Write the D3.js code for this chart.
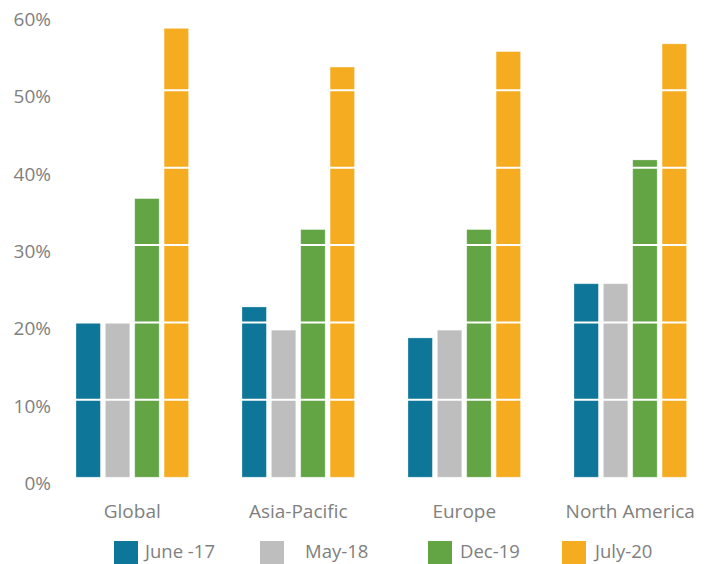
<!DOCTYPE html>
<html>
<head>
<meta charset="utf-8">
<script src="https://cdn.jsdelivr.net/npm/d3@7"></script>
<style>
  html, body { margin: 0; padding: 0; background: #ffffff; }
  svg { display: block; }
  text { font-family: "Open Sans", "Noto Sans", sans-serif; fill: #808080; }
</style>
</head>
<body>
<svg id="chart" width="705" height="564"></svg>
<script>
// ---- data ----
const categories = ["Global", "Asia-Pacific", "Europe", "North America"];
const seriesNames = ["June -17", "May-18", "Dec-19", "July-20"];
const june17 = [20, 22, 18, 25];
const may18  = [20, 19, 19, 25];
const dec19  = [36, 32, 32, 41];
const july20 = [58, 53, 55, 56];
const yTicks = [0, 10, 20, 30, 40, 50, 60];
const colors = ["#0e7799", "#bdbebd", "#63a445", "#f5ac21"];

const seriesValues = [june17, may18, dec19, july20];

// ---- layout ----
const svg = d3.select("#chart");
const y = d3.scaleLinear().domain([0, 60]).range([477.2, 12.9]);
const x0 = d3.scaleBand().domain(categories)
  .range([76, 76 + 166 * 3 + 112.5])
  .paddingInner((166 - 112.5) / 166)
  .paddingOuter(0);
const x1 = d3.scaleBand().domain(seriesNames).range([0, x0.bandwidth()]).paddingInner(0.17);

// bars
const g = svg.append("g");
categories.forEach((cat, ci) => {
  seriesNames.forEach((s, si) => {
    const v = seriesValues[si][ci];
    g.append("rect")
      .attr("x", x0(cat) + x1(s))
      .attr("y", y(v))
      .attr("width", x1.bandwidth())
      .attr("height", y(0) - y(v))
      .attr("fill", colors[si])
      .attr("stroke", "#ffffff")
      .attr("stroke-opacity", 0.35)
      .attr("stroke-width", 0.8);
  });
});

// white gridlines over bars
const gridW = svg.append("g");
yTicks.filter(t => t > 0).forEach(t => {
  gridW.append("line")
    .attr("x1", 60).attr("x2", 705)
    .attr("y1", y(t)).attr("y2", y(t))
    .attr("stroke", "#ffffff")
    .attr("stroke-width", 2);
});

// y axis labels
const yAxis = d3.axisLeft(y).tickValues(yTicks).tickFormat(d => d + "%").tickSize(0).tickPadding(0);
const ya = svg.append("g").attr("transform", "translate(51,0)").call(yAxis);
ya.select(".domain").remove();
ya.selectAll("text")
  .attr("font-size", 19)
  .attr("font-family", "'Open Sans', sans-serif")
  .attr("fill", "#808080")
  .attr("dy", null)
  .attr("y", 12.5);

// x axis labels
const xAxis = d3.axisBottom(x0).tickSize(0).tickPadding(0);
const xa = svg.append("g").attr("transform", "translate(0,518)").call(xAxis);
xa.select(".domain").remove();
xa.selectAll("text")
  .attr("font-size", 19)
  .attr("font-family", "'Open Sans', sans-serif")
  .attr("fill", "#808080")
  .attr("dy", null)
  .attr("y", 0);

// legend
const legendX = [114, 260, 428, 562];
const legendTextX = [145, 305, 460, 595];
const lg = svg.append("g");
seriesNames.forEach((s, i) => {
  lg.append("rect")
    .attr("x", legendX[i]).attr("y", 541)
    .attr("width", 24).attr("height", 23)
    .attr("fill", colors[i]);
  lg.append("text")
    .attr("x", legendTextX[i]).attr("y", 558)
    .attr("font-size", 18.5)
    .text(s);
});
</script>
</body>
</html>
